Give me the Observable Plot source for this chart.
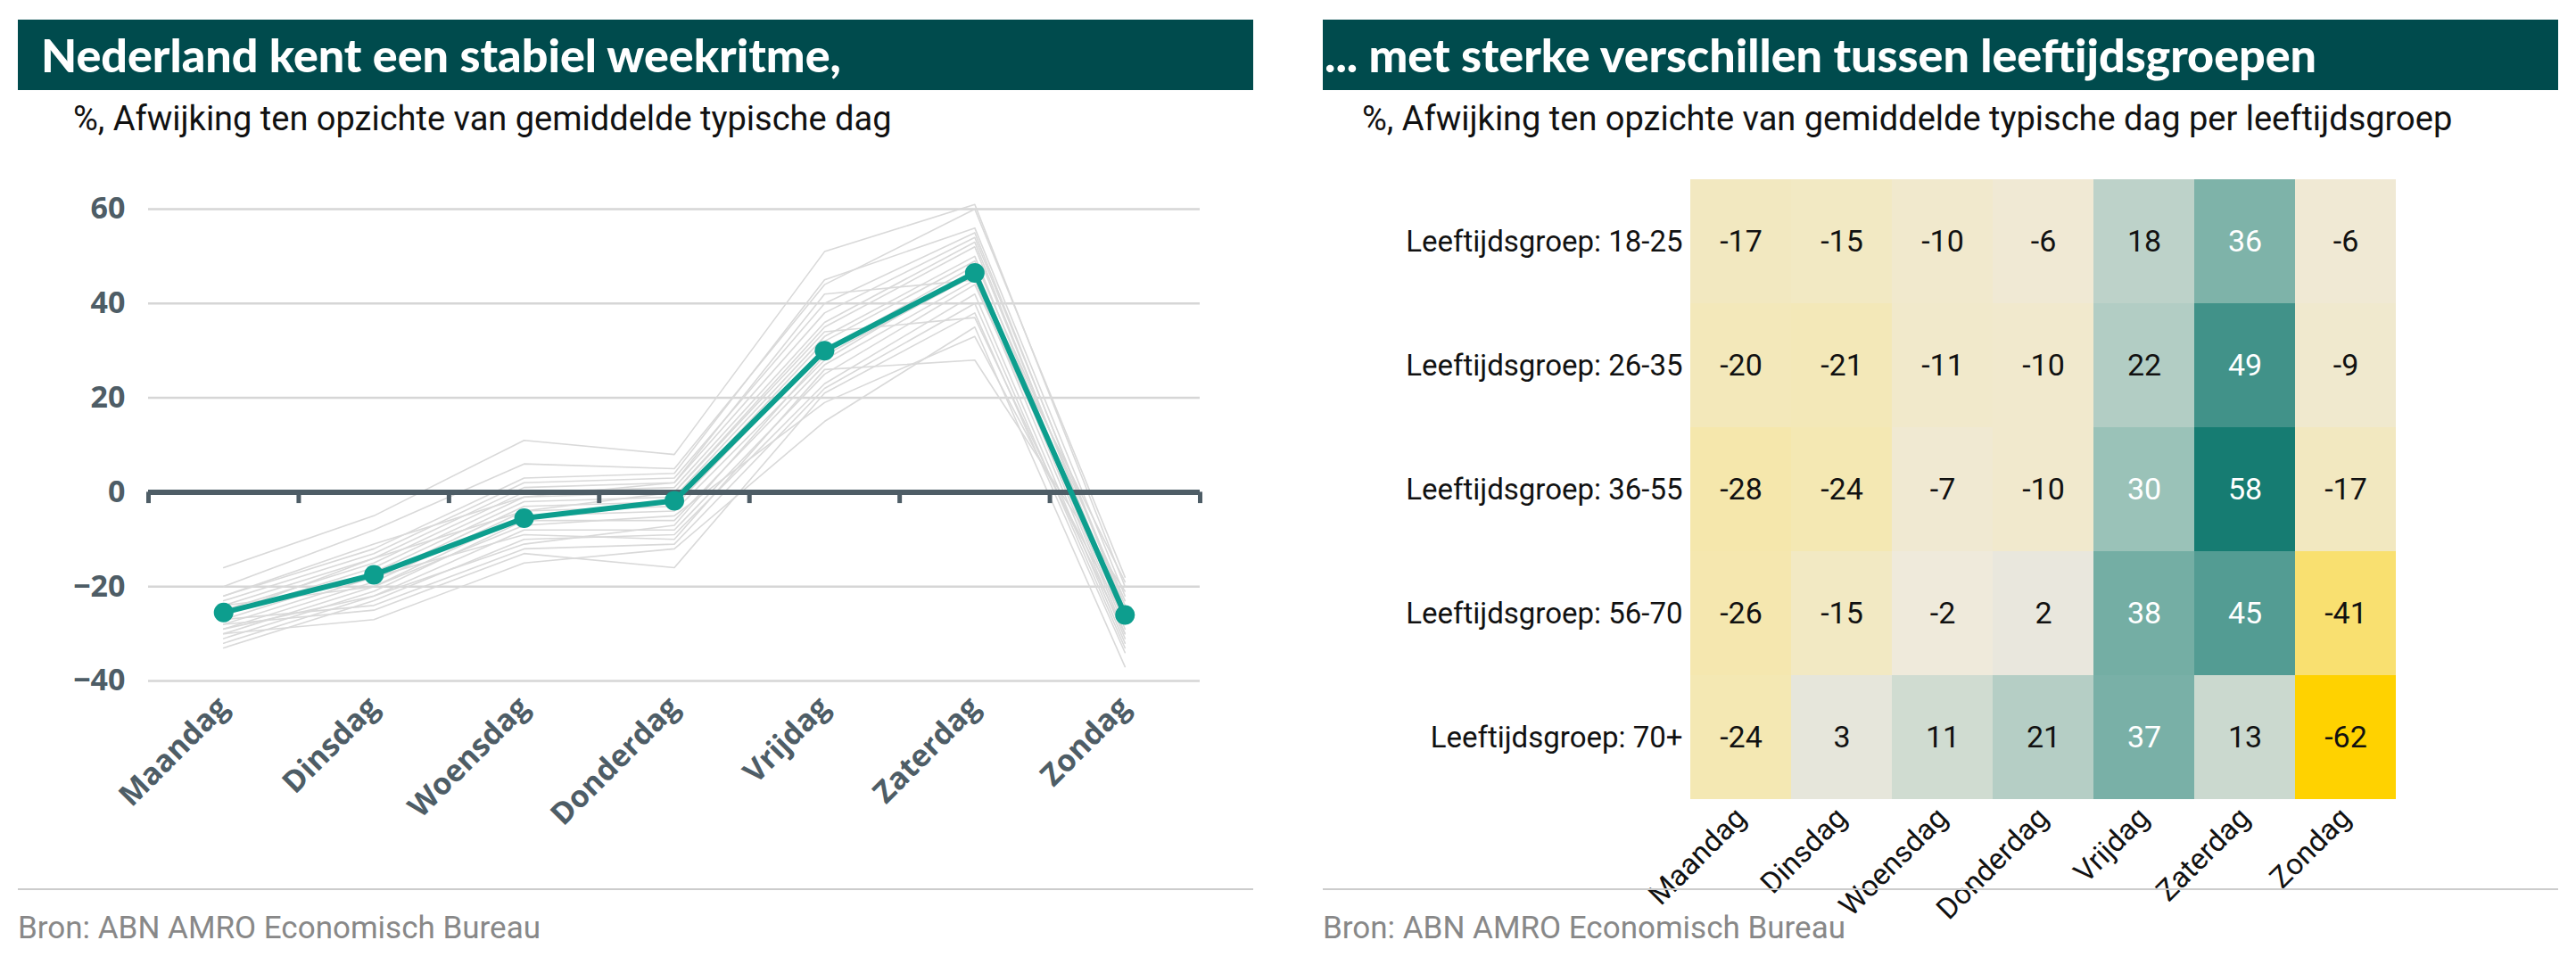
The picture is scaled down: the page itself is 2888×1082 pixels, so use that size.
<!DOCTYPE html>
<html><head><meta charset="utf-8">
<script src="https://cdn.jsdelivr.net/npm/d3@7"></script>
<script src="https://cdn.jsdelivr.net/npm/@observablehq/plot@0.6"></script>
<style>
body{margin:0;background:#fff;font-family:"Roboto",sans-serif;width:2888px;height:1082px;position:relative;overflow:hidden}
.panel{position:absolute;top:22px;width:1385px}
.hdr{background:#004b4d;color:#fff;font-family:"Lato",sans-serif;font-weight:900;font-size:52px;height:79px;line-height:79px;padding-left:26px;box-sizing:border-box;white-space:nowrap}
.sub{font-size:38px;color:#111;margin-top:10px;padding-left:62px;font-family:"Roboto",sans-serif;white-space:nowrap}
.chart{position:absolute;top:158px;left:0}
.chart svg{overflow:visible}
.foot{position:absolute;top:996px;width:1385px;border-top:2px solid #ccc;color:#888;font-size:35px;padding-top:22px}
</style></head><body>
<div class="panel" style="left:20px"><div class="hdr">Nederland kent een stabiel weekritme,</div><div class="sub">%, Afwijking ten opzichte van gemiddelde typische dag</div><div class="chart" id="left"></div></div>
<div class="panel" style="left:1483px"><div class="hdr" style="padding-left:2px">... met sterke verschillen tussen leeftijdsgroepen</div><div class="sub" style="padding-left:44px">%, Afwijking ten opzichte van gemiddelde typische dag per leeftijdsgroep</div><div class="chart" id="right"></div></div>
<div class="foot" style="left:20px">Bron: ABN AMRO Economisch Bureau</div>
<div class="foot" style="left:1483px">Bron: ABN AMRO Economisch Bureau</div>
<script>
const days = ["Maandag","Dinsdag","Woensdag","Donderdag","Vrijdag","Zaterdag","Zondag"];
const mainSeries = [-25.5,-17.5,-5.5,-1.8,30,46.5,-26];
const grayLines = [
[-16,-5,11,8,51,61,-20],[-20,-8,6,5,44,60,-18],[-22,-12,3,4,45,56,-22],[-23,-13,2,3,40,55,-25],
[-24,-14,1,2,38,54,-24],[-25,-15,0,1,36,53,-27],[-26,-16,-1,0,35,52,-26],[-27,-17,-2,-1,33,50,-28],
[-28,-18,-3,-2,32,49,-23],[-29,-19,-4,-3,30,48,-29],[-30,-20,-5,-4,28,47,-30],[-31,-21,-6,-6,27,45,-31],
[-32,-22,-8,-8,25,44,-25],[-33,-23,-10,-9,23,42,-32],[-27,-24,-12,-11,22,40,-33],[-28,-25,-13,-16,21,38,-34],
[-30,-27,-15,-12,15,35,-37],[-25,-18,-9,-10,26,28,-21],[-24,-20,-7,-5,19,33,-27],[-22,-11,-1,2,42,45,-19],
[-26,-14,-4,0,34,37,-30],[-29,-22,-11,-7,29,46,-26]];
const groups = ["Leeftijdsgroep: 18-25","Leeftijdsgroep: 26-35","Leeftijdsgroep: 36-55","Leeftijdsgroep: 56-70","Leeftijdsgroep: 70+"];
const heat = [
[-17,-15,-10,-6,18,36,-6],
[-20,-21,-11,-10,22,49,-9],
[-28,-24,-7,-10,30,58,-17],
[-26,-15,-2,2,38,45,-41],
[-24,3,11,21,37,13,-62]];
const yTicks = [-40,-20,0,20,40,60];

const grayData = grayLines.flatMap((s,k)=>s.map((v,i)=>({k,i,v})));
const mainData = mainSeries.map((v,i)=>({i,v}));
const bounds = d3.range(-0.5,7,1);

const left = Plot.plot({
  width:1385,height:800,marginLeft:146,marginRight:60,marginTop:54,marginBottom:217,
  style:{fontFamily:"Open Sans",fontSize:"34px",fontWeight:"700",color:"#4e5d66",background:"transparent",overflow:"visible"},
  x:{domain:[-0.5,6.5],ticks:d3.range(7),tickFormat:i=>days[i],tickRotate:-45,tickSize:0,label:null,tickPadding:24},
  y:{domain:[-40,60],ticks:yTicks,label:null,tickSize:0,tickPadding:26},
  marks:[
    Plot.gridY(yTicks,{stroke:"#d6d6d6",strokeOpacity:1,strokeWidth:2.5}),
    Plot.line(grayData,{x:"i",y:"v",z:"k",stroke:"#d9d9d9",strokeWidth:1.6}),
    Plot.ruleY([0],{stroke:"#4e5d66",strokeWidth:6}),
    Plot.ruleX(bounds,{y1:0,y2:-2.4,stroke:"#4e5d66",strokeWidth:5}),
    Plot.line(mainData,{x:"i",y:"v",stroke:"#0d9e8e",strokeWidth:6}),
    Plot.dot(mainData,{x:"i",y:"v",fill:"#0d9e8e",r:11})
  ]
});
document.getElementById("left").append(left);

const cells = heat.flatMap((row,r)=>row.map((v,c)=>({g:groups[r],d:days[c],v})));
const interp = d3.piecewise(d3.interpolateRgb,["#ffd200","#f6e7a6","#eeeadf","#9fc4bb","#167c72"]);
const right = Plot.plot({
  width:1385,height:880,marginLeft:409,marginRight:180,marginTop:19,marginBottom:163,
  style:{fontFamily:"Roboto",fontSize:"33px",color:"#111",background:"transparent",overflow:"visible"},
  x:{domain:days,padding:0,label:null,tickSize:0,tickRotate:-45,tickPadding:14},
  y:{domain:groups,padding:0,label:null,tickSize:0,tickPadding:6},
  color:{type:"linear",domain:[-62,58],interpolate:()=>t=>{const v=-62+t*120;const u=v<0?0.5*(v+62)/62:0.5+0.5*v/58;return interp(u);}},
  marks:[
    Plot.cell(cells,{x:"d",y:"g",fill:"v"}),
    Plot.text(cells,{x:"d",y:"g",text:d=>String(d.v),fill:d=>d.v>25?"#fff":"#111",fontSize:34})
  ]
});
document.getElementById("right").append(right);
</script></body></html>
